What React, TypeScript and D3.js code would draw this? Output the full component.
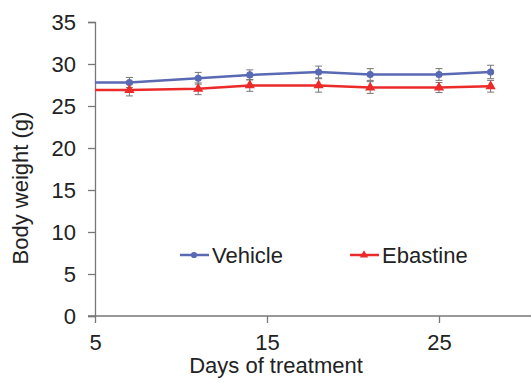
import React, { useEffect, useRef } from 'react'
import * as d3 from 'd3'

const days = [4, 7, 11, 14, 18, 21, 25, 28]
const vehicle = [27.8, 27.8, 28.3, 28.7, 29.05, 28.75, 28.75, 29.05]
const vehicleErr = [0.6, 0.6, 0.7, 0.6, 0.7, 0.7, 0.7, 0.8]
const ebastine = [26.9, 26.9, 27.05, 27.45, 27.45, 27.2, 27.2, 27.35]
const ebastineErr = [0.7, 0.7, 0.7, 0.7, 0.8, 0.7, 0.6, 0.7]
const yTicks = [0, 5, 10, 15, 20, 25, 30, 35]
const xTicks = [5, 15, 25]

const BLUE = '#5a69b3'
const RED = '#ec2a2a'
const FONT = 'Liberation Sans, Arial, sans-serif'
const FS = 22

export default function App() {
  const svgRef = useRef(null)

  useEffect(() => {
    const svg = d3.select(svgRef.current)
    svg.selectAll('*').remove()

    const x = d3.scaleLinear().domain([5, 30]).range([95, 525])
    const y = d3.scaleLinear().domain([0, 35]).range([316, 22])

    // clip so the lines start at the y axis
    svg
      .append('clipPath')
      .attr('id', 'plot')
      .append('rect')
      .attr('x', 95)
      .attr('y', 0)
      .attr('width', 436)
      .attr('height', 316)

    // y axis
    svg
      .append('g')
      .attr('transform', 'translate(95,0)')
      .call(d3.axisLeft(y).tickValues(yTicks).tickSize(7).tickPadding(12))
      .call((g) => g.select('.domain').attr('stroke', '#777').attr('stroke-width', 1.3))
      .call((g) => g.selectAll('line').attr('stroke', '#777').attr('stroke-width', 1.3))
      .call((g) =>
        g.selectAll('text').attr('font-size', FS).attr('font-family', FONT).attr('fill', '#222'),
      )

    // x axis
    svg
      .append('g')
      .attr('transform', 'translate(0,316)')
      .call(d3.axisBottom(x).tickValues(xTicks).tickSize(7).tickPadding(11).tickSizeOuter(0))
      .call((g) => g.select('.domain').remove())
      .call((g) => g.selectAll('line').attr('stroke', '#777').attr('stroke-width', 1.3))
      .call((g) =>
        g.selectAll('text').attr('font-size', FS).attr('font-family', FONT).attr('fill', '#222'),
      )
    svg
      .append('line')
      .attr('x1', 88)
      .attr('x2', 531)
      .attr('y1', 316)
      .attr('y2', 316)
      .attr('stroke', '#777')
      .attr('stroke-width', 1.3)

    const series = [
      { vals: vehicle, err: vehicleErr, color: BLUE, marker: 'circle' },
      { vals: ebastine, err: ebastineErr, color: RED, marker: 'triangle' },
    ]

    const line = d3
      .line()
      .x((d) => x(d[0]))
      .y((d) => y(d[1]))

    // error bars first
    series.forEach((s) => {
      const g = svg.append('g').attr('clip-path', 'url(#plot)')
      days.forEach((d, i) => {
        const cx = x(d)
        g.append('line')
          .attr('x1', cx)
          .attr('x2', cx)
          .attr('y1', y(s.vals[i] - s.err[i]))
          .attr('y2', y(s.vals[i] + s.err[i]))
          .attr('stroke', '#777')
          .attr('stroke-width', 1)
        ;[s.vals[i] - s.err[i], s.vals[i] + s.err[i]].forEach((v) => {
          g.append('line')
            .attr('x1', cx - 3.5)
            .attr('x2', cx + 3.5)
            .attr('y1', y(v))
            .attr('y2', y(v))
            .attr('stroke', '#777')
            .attr('stroke-width', 1)
        })
      })
    })

    series.forEach((s) => {
      const g = svg.append('g').attr('clip-path', 'url(#plot)')
      g.append('path')
        .datum(days.map((d, i) => [d, s.vals[i]]))
        .attr('d', line)
        .attr('fill', 'none')
        .attr('stroke', s.color)
        .attr('stroke-width', 2.5)
      const sym = s.marker === 'circle' ? d3.symbolCircle : d3.symbolTriangle
      days.forEach((d, i) => {
        if (d < 5) return
        g.append('path')
          .attr('d', d3.symbol(sym, s.marker === 'circle' ? 40 : 45)())
          .attr('transform', `translate(${x(d)},${y(s.vals[i])})`)
          .attr('fill', s.color)
      })
    })

    // legend
    const legend = [
      { name: 'Vehicle', color: BLUE, marker: 'circle', x0: 180 },
      { name: 'Ebastine', color: RED, marker: 'triangle', x0: 350 },
    ]
    legend.forEach((l) => {
      const g = svg.append('g').attr('transform', `translate(${l.x0},255)`)
      g.append('line').attr('x1', 0).attr('x2', 29).attr('stroke', l.color).attr('stroke-width', 2.5)
      g.append('path')
        .attr('d', d3.symbol(l.marker === 'circle' ? d3.symbolCircle : d3.symbolTriangle, 30)())
        .attr('transform', 'translate(14,0)')
        .attr('fill', l.color)
      g.append('text')
        .attr('x', 32)
        .attr('y', 7.5)
        .attr('font-size', FS)
        .attr('font-family', FONT)
        .attr('fill', '#222')
        .text(l.name)
    })

    // axis titles
    svg
      .append('text')
      .attr('x', 276)
      .attr('y', 373)
      .attr('text-anchor', 'middle')
      .attr('font-size', FS)
      .attr('font-family', FONT)
      .attr('fill', '#222')
      .text('Days of treatment')
    svg
      .append('text')
      .attr('transform', 'translate(28,188) rotate(-90)')
      .attr('text-anchor', 'middle')
      .attr('font-size', FS)
      .attr('font-family', FONT)
      .attr('fill', '#222')
      .text('Body weight (g)')
  }, [])

  return (
    <svg
      ref={svgRef}
      width="531"
      height="383"
      style={{ position: 'absolute', left: 0, top: 0, background: '#fff' }}
    ></svg>
  )
}
